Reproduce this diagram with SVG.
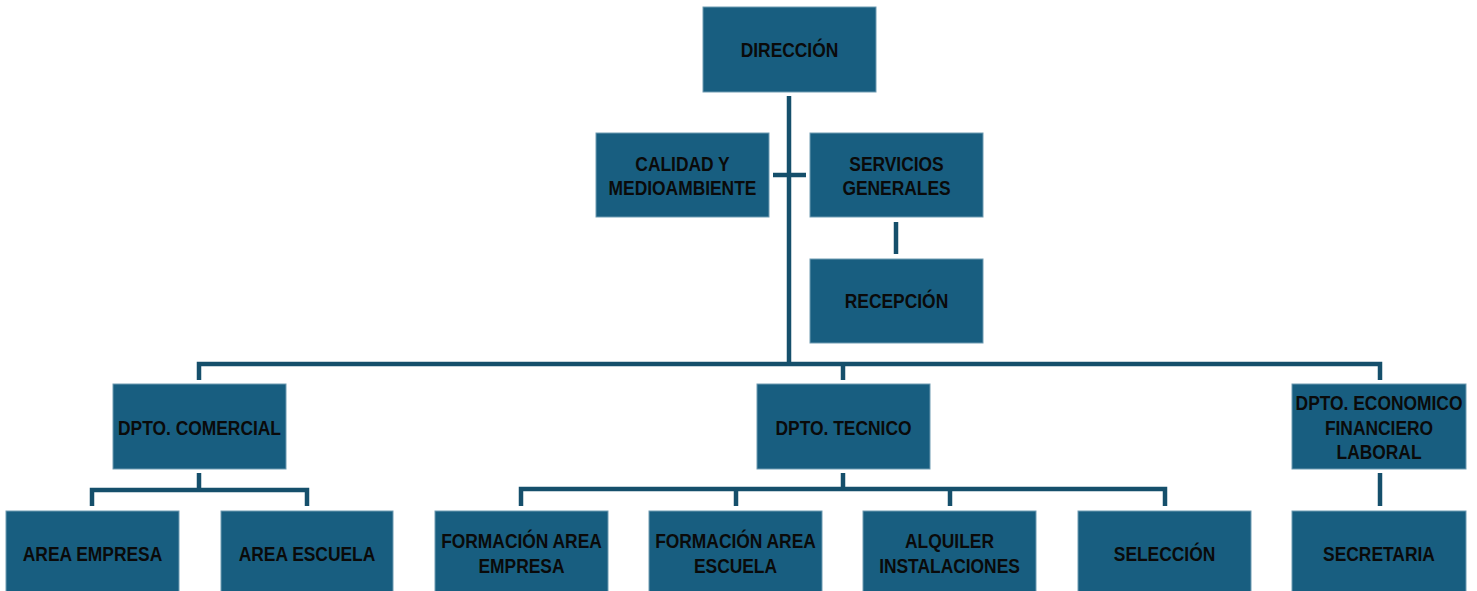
<svg xmlns="http://www.w3.org/2000/svg" width="1477" height="591" viewBox="0 0 1477 591">
<style>
.box{fill:#185e80;stroke:#6f9bb2;stroke-width:1}
.lbl{font-family:"Liberation Sans",Arial,sans-serif;font-weight:bold;font-size:20px;fill:#0a0a0a;text-anchor:middle}
.con{fill:none;stroke:#154f6b;stroke-width:4.5;stroke-linejoin:miter;stroke-linecap:butt}
</style>
<rect width="1477" height="591" fill="#ffffff"/>
<g id="connectors">
<path class="con" d="M789 96 V364"/>
<path class="con" d="M773 175 H806"/>
<path class="con" d="M896 222 V254"/>
<path class="con" d="M199 380 V364 H1380 V380"/>
<path class="con" d="M843 364 V380"/>
<path class="con" d="M199 473 V490"/>
<path class="con" d="M92 506 V490 H307 V506"/>
<path class="con" d="M843 473 V489"/>
<path class="con" d="M521 506 V489 H1165 V506"/>
<path class="con" d="M736 489 V506"/>
<path class="con" d="M950 489 V506"/>
<path class="con" d="M1380 473 V506"/>
</g>
<g id="direccion">
<rect class="box" x="703" y="7" width="173" height="85"/>
<text class="lbl" transform="translate(789.5 0) scale(0.87 1)"><tspan x="0" y="57">DIRECCIÓN</tspan></text>
</g>
<g id="calidad">
<rect class="box" x="596" y="133" width="173" height="84"/>
<text class="lbl" transform="translate(682.5 0) scale(0.87 1)"><tspan x="0" y="171">CALIDAD Y</tspan><tspan x="0" y="195">MEDIOAMBIENTE</tspan></text>
</g>
<g id="servicios">
<rect class="box" x="810" y="133" width="173" height="84"/>
<text class="lbl" transform="translate(896.5 0) scale(0.87 1)"><tspan x="0" y="171">SERVICIOS</tspan><tspan x="0" y="195">GENERALES</tspan></text>
</g>
<g id="recepcion">
<rect class="box" x="810" y="259" width="173" height="84"/>
<text class="lbl" transform="translate(896.5 0) scale(0.87 1)"><tspan x="0" y="308">RECEPCIÓN</tspan></text>
</g>
<g id="comercial">
<rect class="box" x="113" y="384" width="173" height="85"/>
<text class="lbl" transform="translate(199.5 0) scale(0.87 1)"><tspan x="0" y="435">DPTO. COMERCIAL</tspan></text>
</g>
<g id="tecnico">
<rect class="box" x="757" y="384" width="173" height="85"/>
<text class="lbl" transform="translate(843.5 0) scale(0.87 1)"><tspan x="0" y="435">DPTO. TECNICO</tspan></text>
</g>
<g id="economico">
<rect class="box" x="1292" y="384" width="174" height="85"/>
<text class="lbl" transform="translate(1379 0) scale(0.87 1)"><tspan x="0" y="410">DPTO. ECONOMICO</tspan><tspan x="0" y="435">FINANCIERO</tspan><tspan x="0" y="459">LABORAL</tspan></text>
</g>
<g id="area-empresa">
<rect class="box" x="6" y="511" width="173" height="85"/>
<text class="lbl" transform="translate(92.5 0) scale(0.87 1)"><tspan x="0" y="561">AREA EMPRESA</tspan></text>
</g>
<g id="area-escuela">
<rect class="box" x="221" y="511" width="172" height="85"/>
<text class="lbl" transform="translate(307 0) scale(0.87 1)"><tspan x="0" y="561">AREA ESCUELA</tspan></text>
</g>
<g id="formacion-empresa">
<rect class="box" x="435" y="511" width="173" height="85"/>
<text class="lbl" transform="translate(521.5 0) scale(0.87 1)"><tspan x="0" y="548">FORMACIÓN AREA</tspan><tspan x="0" y="573">EMPRESA</tspan></text>
</g>
<g id="formacion-escuela">
<rect class="box" x="649" y="511" width="173" height="85"/>
<text class="lbl" transform="translate(735.5 0) scale(0.87 1)"><tspan x="0" y="548">FORMACIÓN AREA</tspan><tspan x="0" y="573">ESCUELA</tspan></text>
</g>
<g id="alquiler">
<rect class="box" x="863" y="511" width="173" height="85"/>
<text class="lbl" transform="translate(949.5 0) scale(0.87 1)"><tspan x="0" y="548">ALQUILER</tspan><tspan x="0" y="573">INSTALACIONES</tspan></text>
</g>
<g id="seleccion">
<rect class="box" x="1078" y="511" width="173" height="85"/>
<text class="lbl" transform="translate(1164.5 0) scale(0.87 1)"><tspan x="0" y="561">SELECCIÓN</tspan></text>
</g>
<g id="secretaria">
<rect class="box" x="1292" y="511" width="174" height="85"/>
<text class="lbl" transform="translate(1379 0) scale(0.87 1)"><tspan x="0" y="561">SECRETARIA</tspan></text>
</g>
</svg>
